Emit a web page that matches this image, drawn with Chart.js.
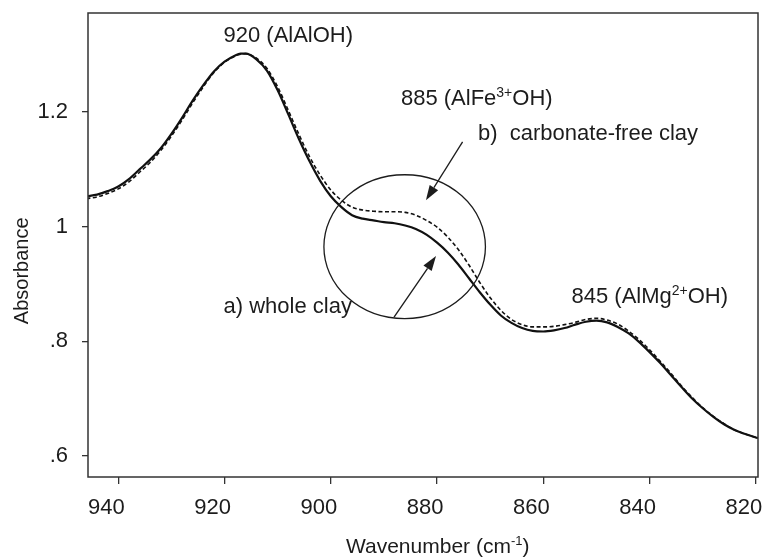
<!DOCTYPE html>
<html>
<head>
<meta charset="utf-8">
<script src="https://cdn.jsdelivr.net/npm/chart.js@4.4.1/dist/chart.umd.min.js"></script>
<style>
  html, body { margin: 0; padding: 0; background: #fff; }
  #wrap { width: 765px; height: 558px; position: relative; }
</style>
</head>
<body>
<div id="wrap"><canvas id="c" width="765" height="558"></canvas></div>
<script>
// ---- data ----
const wavenumbers = [946, 944, 942, 940, 938, 936, 934, 932, 930, 928, 926, 924, 922, 920, 918, 917, 916, 914, 912, 910,
  908, 906, 904, 902, 900, 898, 896, 894, 892, 890, 888, 886, 884, 882, 880, 878, 876, 874, 872, 870,
  868, 866, 864, 862, 860, 858, 856, 854, 852, 850, 848, 846, 844, 842, 840, 838, 836, 834, 832, 830,
  828, 826, 824, 822, 820, 819.6];
const wholeClay = [1.053, 1.056, 1.062, 1.070, 1.083, 1.100, 1.117, 1.137, 1.162, 1.190, 1.220, 1.247, 1.271, 1.288, 1.299, 1.302, 1.302, 1.292, 1.272, 1.238,
  1.196, 1.153, 1.114, 1.080, 1.053, 1.034, 1.020, 1.014, 1.011, 1.008, 1.006, 1.002, 0.996, 0.986, 0.972, 0.955, 0.934, 0.910, 0.886, 0.864,
  0.845, 0.832, 0.823, 0.818, 0.817, 0.819, 0.823, 0.829, 0.834, 0.836, 0.833, 0.825, 0.814, 0.799, 0.781, 0.762, 0.741, 0.720, 0.700, 0.683,
  0.668, 0.655, 0.645, 0.638, 0.632, 0.631];
const carbonateFree = [1.049, 1.052, 1.058, 1.066, 1.078, 1.095, 1.112, 1.133, 1.158, 1.186, 1.216, 1.244, 1.269, 1.287, 1.298, 1.301, 1.302, 1.294, 1.276, 1.244,
  1.203, 1.161, 1.122, 1.090, 1.064, 1.046, 1.034, 1.029, 1.027, 1.026, 1.026, 1.025, 1.020, 1.011, 0.999, 0.982, 0.960, 0.933, 0.903, 0.876,
  0.854, 0.838, 0.829, 0.825, 0.825, 0.826, 0.829, 0.833, 0.838, 0.840, 0.837, 0.830, 0.818, 0.803, 0.785, 0.765, 0.744, 0.722, 0.702, 0.684,
  0.669, 0.656, 0.645, 0.638, 0.632, 0.631];
const xTicks = [940, 920, 900, 880, 860, 840, 820];
const yTicks = [0.6, 0.8, 1.0, 1.2];
const yTickLabels = ['.6', '.8', '1', '1.2'];

// ---- annotation text & placement (data coordinates) ----
const peakLabels = [
  { parts: [['920 (AlAlOH)', 0]], x: 920.2, y: 1.322 },
  { parts: [['885 (AlFe', 0], ['3+', 1], ['OH)', 0]], x: 886.8, y: 1.212 },
  { parts: [['845 (AlMg', 0], ['2+', 1], ['OH)', 0]], x: 854.7, y: 0.867 },
  { parts: [['b)  carbonate-free clay', 0]], x: 872.3, y: 1.151 },
  { parts: [['a) whole clay', 0]], x: 920.2, y: 0.8495 }
];
const arrows = [
  { from: [875.2, 1.148], to: [882.1, 1.046] },
  { from: [888.1, 0.842], to: [880.2, 0.949] }
];
const circle = { cx: 886.1, cy: 0.965, rx: 15.2, ry: 0.1256 };

const FONT = "'Liberation Sans', Arial, Helvetica, sans-serif";
const INK = '#1c1c1c';

function drawRich(ctx, parts, x, y, size) {
  let cx = x;
  for (const [txt, sup] of parts) {
    ctx.font = (sup ? Math.round(size * 0.64) : size) + 'px ' + FONT;
    ctx.fillText(txt, cx, sup ? y - size * 0.36 : y);
    cx += ctx.measureText(txt).width;
  }
}

const annot = {
  id: 'annot',
  afterDatasetsDraw(chart) {
    const ctx = chart.ctx, xs = chart.scales.x, ys = chart.scales.y, a = chart.chartArea;
    ctx.save();
    // frame
    ctx.strokeStyle = '#333';
    ctx.lineWidth = 1.5;
    ctx.strokeRect(a.left, a.top, a.right - a.left, a.bottom - a.top);
    // circle
    ctx.strokeStyle = INK;
    ctx.lineWidth = 1.3;
    const pcx = xs.getPixelForValue(circle.cx), pcy = ys.getPixelForValue(circle.cy);
    const prx = Math.abs(xs.getPixelForValue(circle.cx + circle.rx) - pcx);
    const pry = Math.abs(ys.getPixelForValue(circle.cy + circle.ry) - pcy);
    ctx.beginPath();
    ctx.ellipse(pcx, pcy, prx, pry, 0, 0, Math.PI * 2);
    ctx.stroke();
    // arrows
    ctx.fillStyle = INK;
    for (const ar of arrows) {
      const x1 = xs.getPixelForValue(ar.from[0]), y1 = ys.getPixelForValue(ar.from[1]);
      const x2 = xs.getPixelForValue(ar.to[0]), y2 = ys.getPixelForValue(ar.to[1]);
      const ang = Math.atan2(y2 - y1, x2 - x1);
      const hl = 15, hw = 5;
      const bx = x2 - hl * Math.cos(ang), by = y2 - hl * Math.sin(ang);
      ctx.beginPath();
      ctx.moveTo(x1, y1);
      ctx.lineTo(bx, by);
      ctx.stroke();
      ctx.beginPath();
      ctx.moveTo(x2, y2);
      ctx.lineTo(bx + hw * Math.sin(ang), by - hw * Math.cos(ang));
      ctx.lineTo(bx - hw * Math.sin(ang), by + hw * Math.cos(ang));
      ctx.closePath();
      ctx.fill();
    }
    // labels
    ctx.textAlign = 'left';
    ctx.textBaseline = 'alphabetic';
    for (const l of peakLabels) {
      drawRich(ctx, l.parts, xs.getPixelForValue(l.x), ys.getPixelForValue(l.y), 22);
    }
    // axis titles
    drawXTitle(ctx, xs.getPixelForValue(879.8), a.bottom + 76);
    ctx.save();
    ctx.translate(a.left - 60, ys.getPixelForValue(0.923));
    ctx.rotate(-Math.PI / 2);
    ctx.font = '20px ' + FONT;
    ctx.textAlign = 'center';
    ctx.fillText('Absorbance', 0, 0);
    ctx.restore();
    ctx.restore();
  }
};

function drawXTitle(ctx, cx, y) {
  const parts = [['Wavenumber (cm', 0], ['-1', 1], [')', 0]];
  let w = 0;
  for (const [t, s] of parts) { ctx.font = (s ? 14 : 21) + 'px ' + FONT; w += ctx.measureText(t).width; }
  ctx.textAlign = 'left';
  drawRich(ctx, parts, cx - w / 2, y, 21);
}

new Chart(document.getElementById('c'), {
  type: 'line',
  data: {
    datasets: [
      {
        label: 'b) carbonate-free clay',
        data: wavenumbers.map((w, i) => ({ x: w, y: carbonateFree[i] })),
        borderColor: '#111', borderWidth: 1.6, borderDash: [4, 2.5],
        pointRadius: 0, fill: false, cubicInterpolationMode: 'monotone'
      },
      {
        label: 'a) whole clay',
        data: wavenumbers.map((w, i) => ({ x: w, y: wholeClay[i] })),
        borderColor: '#111', borderWidth: 2.2,
        pointRadius: 0, fill: false, cubicInterpolationMode: 'monotone'
      }
    ]
  },
  options: {
    responsive: false,
    animation: false,
    events: [],
    layout: { padding: { left: 0, right: 7, top: 13, bottom: 0 } },
    plugins: { legend: { display: false }, tooltip: { enabled: false } },
    scales: {
      x: {
        type: 'linear', reverse: true, min: 819.6, max: 945.7,
        afterBuildTicks: s => { s.ticks = xTicks.map(v => ({ value: v })); },
        afterFit: s => { s.height = 81; s.paddingLeft = 0; s.paddingRight = 0; },
        grid: { drawOnChartArea: false, drawTicks: true, tickLength: 7, color: '#333', lineWidth: 1.3 },
        border: { display: false },
        ticks: { color: INK, font: { size: 22, family: FONT }, padding: 11, labelOffset: -12, maxRotation: 0, autoSkip: false }
      },
      y: {
        type: 'linear', min: 0.563, max: 1.373,
        afterBuildTicks: s => { s.ticks = yTicks.map(v => ({ value: v })); },
        afterFit: s => { s.width = 88; s.paddingTop = 0; s.paddingBottom = 0; },
        grid: { drawOnChartArea: false, drawTicks: true, tickLength: 6, color: '#333', lineWidth: 1.3 },
        border: { display: false },
        ticks: {
          color: INK, font: { size: 22, family: FONT }, padding: 14,
          callback: v => { const i = yTicks.findIndex(t => Math.abs(t - v) < 1e-9); return i >= 0 ? yTickLabels[i] : ''; }
        }
      }
    }
  },
  plugins: [annot]
});
</script>
</body>
</html>
